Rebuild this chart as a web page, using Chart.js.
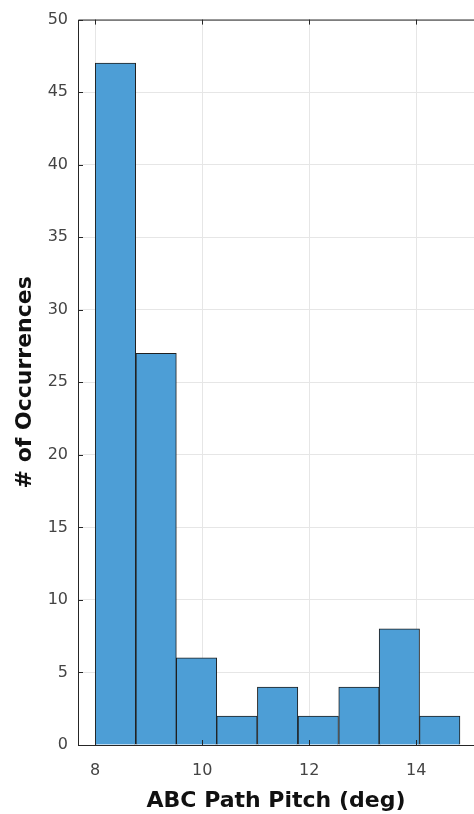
<!DOCTYPE html>
<html>
<head>
<meta charset="utf-8">
<script src="https://cdn.jsdelivr.net/npm/chart.js@4"></script>
<style>
  body { margin: 0; background: #fff; }
  canvas { display: block; }
</style>
</head>
<body>
<canvas id="histChart" width="474" height="814"></canvas>
<script>
// histogram bins (deg) and counts
const binEdges = [8.0, 8.76, 9.52, 10.27, 11.03, 11.79, 12.55, 13.31, 14.06, 14.82];
const counts = [47, 27, 6, 2, 4, 2, 4, 8, 2];
const xTicks = [8, 10, 12, 14];
const yTicks = [0, 5, 10, 15, 20, 25, 30, 35, 40, 45, 50];

const FONT = '"DejaVu Sans", Arial, Helvetica, sans-serif';

const barData = counts.map((c, i) => ({ x: (binEdges[i] + binEdges[i + 1]) / 2, y: c }));

// box around the axes + inward tick marks, like matlab
const boxPlugin = {
    id: 'box',
    afterDraw(chart) {
        const { ctx, chartArea: a, scales } = chart;
        ctx.save();
        ctx.strokeStyle = '#262626';
        ctx.lineWidth = 1;
        ctx.beginPath();
        ctx.moveTo(a.left + 0.5, a.bottom + 0.5);
        ctx.lineTo(a.left + 0.5, a.top + 0.5);
        ctx.lineTo(a.right, a.top + 0.5);
        ctx.moveTo(a.left, a.bottom + 0.5);
        ctx.lineTo(a.right, a.bottom + 0.5);
        scales.x.ticks.forEach(t => {
            const px = Math.round(scales.x.getPixelForValue(t.value)) + 0.5;
            ctx.moveTo(px, a.bottom);
            ctx.lineTo(px, a.bottom - 5);
            ctx.moveTo(px, a.top);
            ctx.lineTo(px, a.top + 5);
        });
        scales.y.ticks.forEach(t => {
            const py = Math.round(scales.y.getPixelForValue(t.value)) + 0.5;
            ctx.moveTo(a.left, py);
            ctx.lineTo(a.left + 5, py);
        });
        ctx.stroke();
        ctx.restore();
    }
};

new Chart(document.getElementById('histChart'), {
    type: 'bar',
    data: {
        datasets: [{
            data: barData,
            backgroundColor: 'rgb(77, 158, 214)',
            borderColor: '#1f1f1f',
            borderWidth: 1,
            barPercentage: 1,
            categoryPercentage: 1
        }]
    },
    options: {
        responsive: false,
        devicePixelRatio: 1,
        animation: false,
        layout: { autoPadding: false, padding: { top: 15, left: 12, right: 0, bottom: 0 } },
        plugins: {
            legend: { display: false },
            tooltip: { enabled: false }
        },
        scales: {
            x: {
                type: 'linear',
                offset: false,
                min: 7.68,
                max: 15.08,
                afterBuildTicks: s => { s.ticks = xTicks.map(v => ({ value: v })); },
                afterFit: s => { s.height = 69; },
                grid: { color: '#e6e6e6', drawTicks: false, offset: false },
                border: { display: false },
                ticks: {
                    padding: 16,
                    color: '#444',
                    font: { family: FONT, size: 16 }
                },
                title: {
                    display: true,
                    text: 'ABC Path Pitch (deg)',
                    color: '#111',
                    padding: { top: 0, bottom: 0 },
                    font: { family: FONT, size: 22, weight: 'bold' }
                }
            },
            y: {
                min: 0,
                max: 50,
                afterBuildTicks: s => { s.ticks = yTicks.map(v => ({ value: v })); },
                afterFit: s => { s.width = 66; },
                grid: { color: '#e6e6e6', drawTicks: false },
                border: { display: false },
                ticks: {
                    padding: 10,
                    color: '#444',
                    font: { family: FONT, size: 16 }
                },
                title: {
                    display: true,
                    text: '# of Occurrences',
                    color: '#111',
                    padding: { top: 0, bottom: 0 },
                    font: { family: FONT, size: 22, weight: 'bold' }
                }
            }
        }
    },
    plugins: [boxPlugin]
});
</script>
</body>
</html>
